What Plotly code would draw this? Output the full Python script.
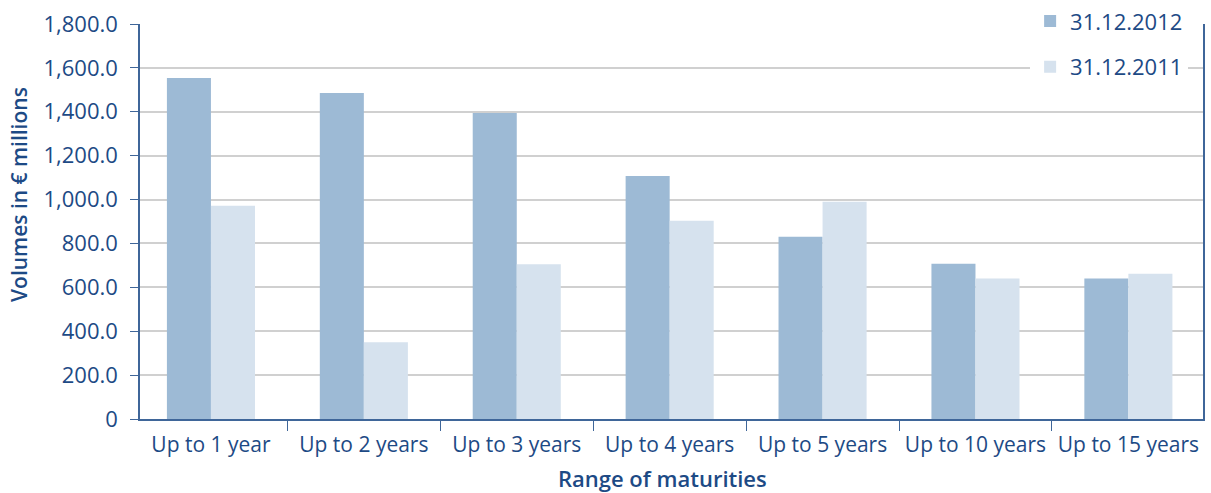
import plotly.graph_objects as go

categories = ["Up to 1 year", "Up to 2 years", "Up to 3 years", "Up to 4 years",
              "Up to 5 years", "Up to 10 years", "Up to 15 years"]
series_2012 = [1554, 1486, 1395, 1107, 830, 707, 640]
series_2011 = [972, 350, 705, 903, 990, 640, 662]
name_2012 = "31.12.2012"
name_2011 = "31.12.2011"
y_ticks = [0, 200, 400, 600, 800, 1000, 1200, 1400, 1600, 1800]
y_ticktext = ["0", "200.0", "400.0", "600.0", "800.0", "1,000.0", "1,200.0", "1,400.0", "1,600.0", "1,800.0"]

TXT = "#1d4a85"
AX = "#3f6699"
FONT = "Open Sans"

fig = go.Figure()
fig.add_trace(go.Bar(x=categories, y=series_2012, name=name_2012,
                     marker=dict(color="#9dbad5", line=dict(width=0)), legendgroup="a"))
fig.add_trace(go.Bar(x=categories, y=series_2011, name=name_2011,
                     marker=dict(color="#d6e2ee", line=dict(width=0)), legendgroup="b"))

fig.update_layout(
    width=1211, height=493,
    margin=dict(l=140, r=8, t=24, b=74, autoexpand=False),
    paper_bgcolor="white", plot_bgcolor="white",
    font=dict(family=FONT, color=TXT, size=22),
    barmode="group", bargap=0.424, bargroupgap=0,
    showlegend=True,
    legend=dict(x=0.986, y=1.06, xanchor="right", yanchor="top",
                bgcolor="white", font=dict(size=22, color=TXT),
                traceorder="grouped", tracegroupgap=14,
                itemsizing="constant"),
    xaxis=dict(showline=True, linecolor=AX, linewidth=1.5,
               range=[-0.464, 6.488], tickangle=0,
               ticks="outside", tickson="boundaries", ticklen=10, tickcolor=AX,
               ticklabelstandoff=6,
               tickfont=dict(size=21, color=TXT), showgrid=False),
    yaxis=dict(range=[0, 1800], tickvals=y_ticks, ticktext=y_ticktext,
               showline=True, linecolor=AX, linewidth=1.5, mirror=True,
               ticks="outside", ticklen=8, tickcolor=AX,
               ticklabelstandoff=8,
               showgrid=True, gridcolor="#d0d0d0", gridwidth=1.5, zeroline=False,
               tickfont=dict(size=22, color=TXT)),
    annotations=[
        dict(text="Range of maturities", xref="paper", yref="paper",
             x=(662 - 140) / 1063, y=-(478 - 419) / 395, xanchor="center", yanchor="middle",
             showarrow=False, font=dict(size=22, color=TXT, weight=600)),
        dict(text="Volumes in € millions", xref="paper", yref="paper", textangle=-90,
             x=(19 - 140) / 1063, y=(419 - 195) / 395, xanchor="center", yanchor="middle",
             showarrow=False, font=dict(size=21, color=TXT, weight=600)),
    ],
)

fig.write_html("out.html", config={"displayModeBar": False},
               post_script="document.body.style.margin='0';")
